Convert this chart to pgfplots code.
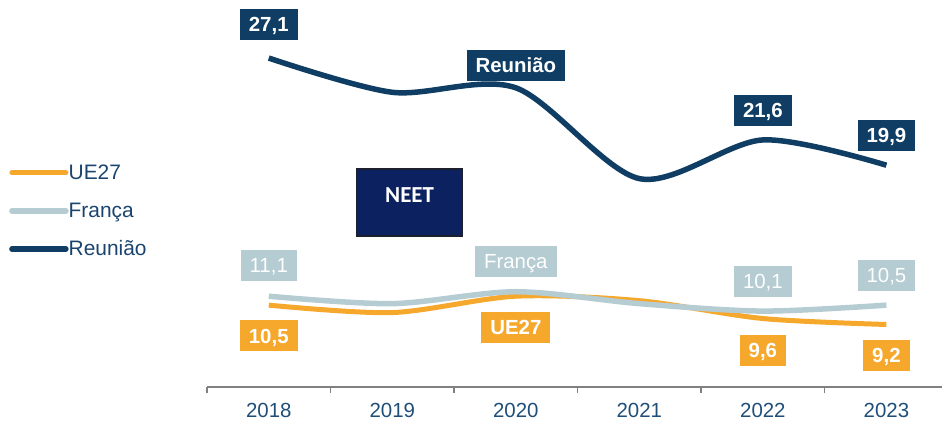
\documentclass[border=0pt]{standalone}
\usepackage{pgfplots}
\pgfplotsset{compat=1.18}
\usepackage{fontspec}
\setmainfont{Liberation Sans}
\newfontfamily\carlito{Carlito}
\definecolor{reu}{HTML}{0F3D63}
\definecolor{fr}{HTML}{B4CCD2}
\definecolor{ue}{HTML}{F6A82C}
\definecolor{ticklab}{HTML}{1F4E79}
\definecolor{legtxt}{HTML}{1A446E}
\definecolor{neet}{HTML}{0C2260}
\definecolor{neetb}{HTML}{1B1F2E}
\definecolor{axgray}{HTML}{808080}
\tikzset{lbl/.style={font=\bfseries\fontsize{20.5}{22}\selectfont, text=white, inner xsep=9bp, minimum height=31bp, text height=15bp, text depth=0.5bp}}
\begin{document}
\begin{tikzpicture}
\useasboundingbox (-207bp,-35bp) rectangle (735bp,387bp);
\begin{axis}[
  scale only axis,
  width=735bp, height=387bp,
  xmin=-0.5, xmax=5.45,
  ymin=5, ymax=31,
  clip=false,
  axis y line=none,
  axis x line*=bottom,
  x axis line style={axgray, line width=1.5bp, -},
  xtick={0,1,2,3,4,5},
  xticklabels={2018,2019,2020,2021,2022,2023},
  major tick length=0pt,
  minor xtick={-0.5,0.5,1.5,2.5,3.5,4.5},
  minor tick length=6bp,
  tick align=outside,
  minor tick style={axgray, line width=1.5bp},
  xticklabel style={font=\fontsize{20.5}{22}\selectfont, text=ticklab, anchor=north, inner sep=0pt},
  xticklabel shift=16bp,
  legend style={draw=none, fill=none, at={(-0.2735,0.58)}, anchor=north west,
    font=\fontsize{21}{23}\selectfont, text=legtxt, row sep=22bp,
    nodes={inner sep=0pt}, cells={anchor=west}},
  legend image code/.code={\draw[#1, line cap=round] (0bp,0bp) -- (54bp,0bp);},
  legend cell align=left,
  every axis plot/.append style={smooth, tension=0.5, no markers},
]
\addplot[ue, line width=5bp] coordinates {(0,10.5) (1,10.0) (2,11.1) (3,10.8) (4,9.6) (5,9.2)};
\addlegendentry{UE27}
\addplot[fr, line width=5.5bp] coordinates {(0,11.1) (1,10.6) (2,11.4) (3,10.6) (4,10.1) (5,10.5)};
\addlegendentry{França}
\addplot[reu, line width=5.5bp] coordinates {(0,27.1) (1,24.8) (2,25.1) (3,19.0) (4,21.6) (5,19.9)};
\addlegendentry{Reunião}

\node[lbl, fill=reu] at (axis cs:0,29.35) {27,1};
\node[lbl, fill=reu] at (axis cs:2,26.63) {Reunião};
\node[lbl, fill=reu] at (axis cs:4,23.6) {21,6};
\node[lbl, fill=reu] at (axis cs:5,21.9) {19,9};

\node[lbl, fill=fr, font=\fontsize{20.5}{22}\selectfont] at (axis cs:0,13.16) {11,1};
\node[lbl, fill=fr, font=\fontsize{20.5}{22}\selectfont] at (axis cs:2,13.46) {França};
\node[lbl, fill=fr, font=\fontsize{20.5}{22}\selectfont] at (axis cs:4,12.12) {10,1};
\node[lbl, fill=fr, font=\fontsize{20.5}{22}\selectfont] at (axis cs:5,12.52) {10,5};

\node[lbl, fill=ue] at (axis cs:0,8.43) {10,5};
\node[lbl, fill=ue] at (axis cs:2,9.0) {UE27};
\node[lbl, fill=ue] at (axis cs:4,7.45) {9,6};
\node[lbl, fill=ue] at (axis cs:5,7.12) {9,2};

\node[fill=neet, draw=neetb, line width=1.5bp, minimum width=106bp, minimum height=67bp, inner sep=0pt] (N) at (axis cs:1.14,17.4) {};
\node[text=white, font=\carlito\bfseries\fontsize{23}{24}\selectfont, anchor=center] at ([yshift=7bp]N.center) {NEET};
\end{axis}
\end{tikzpicture}
\end{document}
